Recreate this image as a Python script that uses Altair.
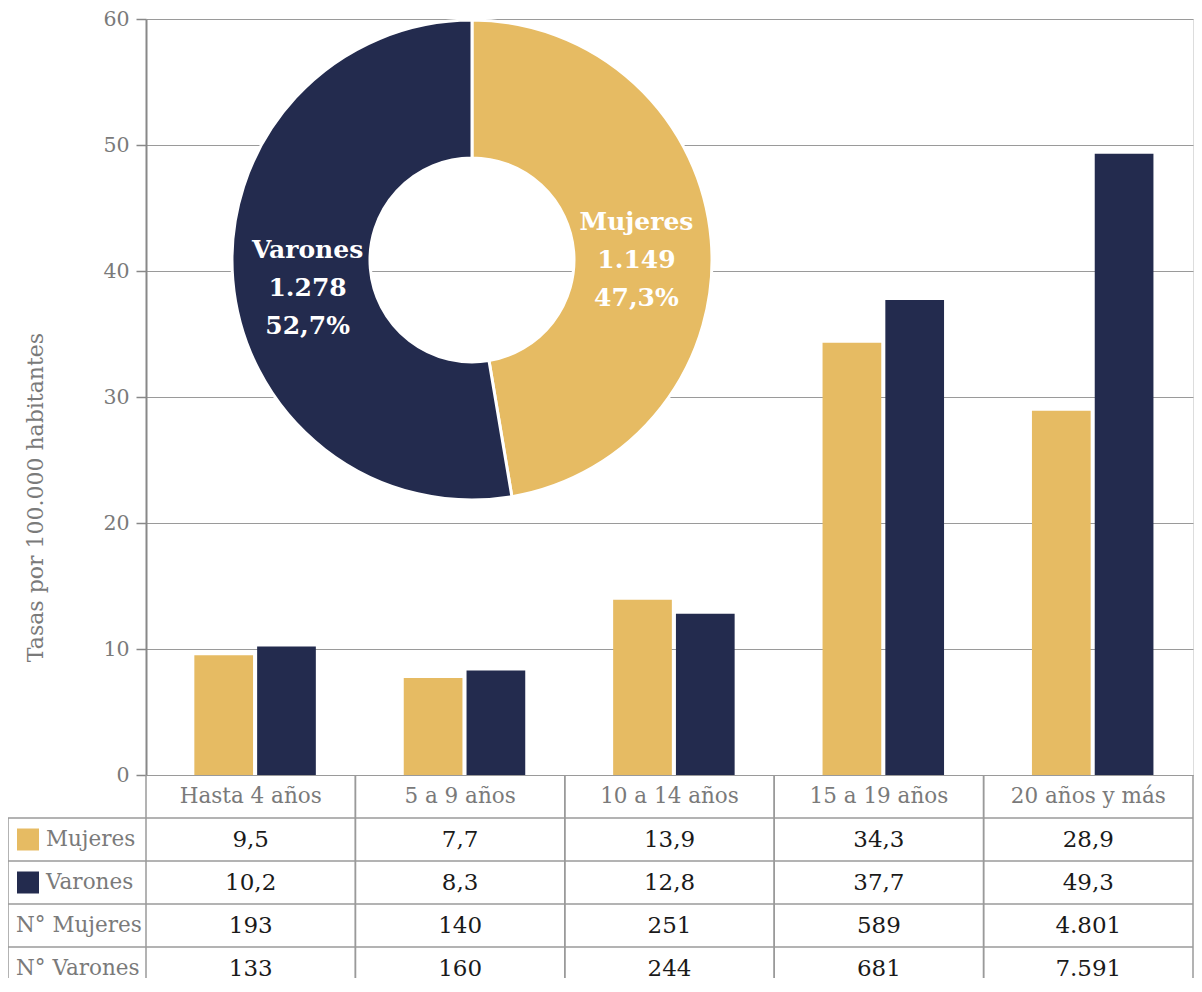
import altair as alt
import pandas as pd

categories = ["Hasta 4 años", "5 a 9 años", "10 a 14 años", "15 a 19 años", "20 años y más"]
series = ["Mujeres", "Varones"]
tasa_mujeres = [9.5, 7.7, 13.9, 34.3, 28.9]
tasa_varones = [10.2, 8.3, 12.8, 37.7, 49.3]
n_mujeres = [193, 140, 251, 589, 4801]
n_varones = [133, 160, 244, 681, 7591]
donut_totals = [1149, 1278]
donut_pct = [47.3, 52.7]
row_labels = ["Mujeres", "Varones", "N° Mujeres", "N° Varones"]
y_ticks = [0, 10, 20, 30, 40, 50, 60]
colors = ["#E6BB63", "#232B4E"]

FONT = "DejaVu Serif"
GRAY_TXT = "#7a7a7a"
LINE = "#9a9a9a"
W, H = 1047, 756
ROW_H = 43


def fmt_dec(v):
    return f"{v:.1f}".replace(".", ",")


def fmt_int(v):
    return f"{v:,}".replace(",", ".")


# bar data
bar_rows = []
for i, c in enumerate(categories):
    bar_rows.append({"cat": c, "serie": "Mujeres", "val": tasa_mujeres[i]})
    bar_rows.append({"cat": c, "serie": "Varones", "val": tasa_varones[i]})
df_bars = pd.DataFrame(bar_rows)

# donut data
df_donut = pd.DataFrame({
    "serie": series,
    "total": donut_totals,
    "idx": [0, 1],
    "label": [f"{s}\n{fmt_int(t)}\n{fmt_dec(p)}%" for s, t, p in zip(series, donut_totals, donut_pct)],
})

# table data
cell_rows = []
for i, c in enumerate(categories):
    cell_rows.append({"cat": c, "row": 1.5, "txt": fmt_dec(tasa_mujeres[i])})
    cell_rows.append({"cat": c, "row": 2.5, "txt": fmt_dec(tasa_varones[i])})
    cell_rows.append({"cat": c, "row": 3.5, "txt": fmt_int(n_mujeres[i])})
    cell_rows.append({"cat": c, "row": 4.5, "txt": fmt_int(n_varones[i])})
df_cells = pd.DataFrame(cell_rows)
df_head = pd.DataFrame({"cat": categories, "row": [0.5] * len(categories)})
df_legend_lab = pd.DataFrame({"lab": row_labels[:2], "row": [1.5, 2.5], "serie": series})
df_n_lab = pd.DataFrame({"lab": row_labels[2:], "row": [3.5, 4.5]})
df_hlines = pd.DataFrame({"row": [1, 2, 3, 4, 5]})
df_vlines = pd.DataFrame({"cat": categories, "y0": [0] * 5, "y1": [5] * 5})
df_left = pd.DataFrame({"y0": [1], "y1": [5]})

x_scale = alt.Scale(domain=categories, paddingInner=0, paddingOuter=0)
color_scale = alt.Scale(domain=series, range=colors)
table_y = alt.Scale(domain=[0, 5], range=[H, H + 5 * ROW_H])

bars = alt.Chart(df_bars).mark_bar().encode(
    x=alt.X("cat:N", scale=x_scale, sort=categories, axis=None),
    xOffset=alt.XOffset("serie:N", scale=alt.Scale(domain=series, paddingInner=0.065,
                                                   paddingOuter=0.7, align=0.55)),
    y=alt.Y("val:Q", scale=alt.Scale(domain=[0, 60], nice=False),
            axis=alt.Axis(values=y_ticks, title="Tasas por 100.000 habitantes",
                          grid=True, gridColor=LINE, gridWidth=1,
                          domainColor="#888888", domainWidth=2,
                          tickColor="#888888", tickSize=10, tickWidth=1.5,
                          labelColor=GRAY_TXT, labelFontSize=20.5, labelFont=FONT, labelPadding=7,
                          titleColor=GRAY_TXT, titleFontSize=22, titleFont=FONT,
                          titleFontWeight="normal", titleX=-111, titleY=478,
                          titleBaseline="middle", titleAlign="center", titleAngle=270)),
    color=alt.Color("serie:N", scale=color_scale, legend=None),
)

donut = alt.Chart(df_donut).mark_arc(radius=240, radius2=102, stroke="white", strokeWidth=3).encode(
    theta=alt.Theta("total:Q", stack=True),
    order=alt.Order("idx:Q"),
    color=alt.Color("serie:N", scale=color_scale, legend=None),
    x=alt.value(326), y=alt.value(241),
)

donut_text = alt.Chart(df_donut).mark_text(
    radius=165, font=FONT, fontSize=25, fontWeight="bold", color="white",
    lineBreak="\n", lineHeight=38, dy=-24, align="center", baseline="middle",
).encode(
    theta=alt.Theta("total:Q", stack=True),
    order=alt.Order("idx:Q"),
    text="label:N",
    x=alt.value(326), y=alt.value(241),
)

hlines = alt.Chart(df_hlines).mark_rule(color=LINE, strokeWidth=1.5).encode(
    y=alt.Y("row:Q", scale=table_y, axis=None),
    x=alt.value(-138), x2=alt.value(W),
)
vlines_a = alt.Chart(df_vlines).mark_rule(color=LINE, strokeWidth=1.5).encode(
    x=alt.X("cat:N", scale=x_scale, sort=categories, bandPosition=0, axis=None),
    y=alt.Y("y0:Q", scale=table_y, axis=None), y2="y1:Q",
)
vlines_b = alt.Chart(df_vlines).mark_rule(color=LINE, strokeWidth=1.5).encode(
    x=alt.X("cat:N", scale=x_scale, sort=categories, bandPosition=1, axis=None),
    y=alt.Y("y0:Q", scale=table_y, axis=None), y2="y1:Q",
)
left_border = alt.Chart(df_left).mark_rule(color=LINE, strokeWidth=1.5).encode(
    x=alt.value(-138),
    y=alt.Y("y0:Q", scale=table_y, axis=None), y2="y1:Q",
)

head = alt.Chart(df_head).mark_text(font=FONT, fontSize=21.5, color=GRAY_TXT, baseline="middle").encode(
    x=alt.X("cat:N", scale=x_scale, sort=categories, axis=None),
    y=alt.Y("row:Q", scale=table_y, axis=None),
    text="cat:N",
)
cells = alt.Chart(df_cells).mark_text(font=FONT, fontSize=23, color="#1a1a1a", baseline="middle").encode(
    x=alt.X("cat:N", scale=x_scale, sort=categories, axis=None),
    y=alt.Y("row:Q", scale=table_y, axis=None),
    text="txt:N",
)
legend_sq = alt.Chart(df_legend_lab).mark_square(size=484, opacity=1).encode(
    x=alt.value(-118),
    y=alt.Y("row:Q", scale=table_y, axis=None),
    color=alt.Color("serie:N", scale=color_scale, legend=None),
)
legend_txt = alt.Chart(df_legend_lab).mark_text(font=FONT, fontSize=21.5, color=GRAY_TXT,
                                                align="left", baseline="middle").encode(
    x=alt.value(-100),
    y=alt.Y("row:Q", scale=table_y, axis=None),
    text="lab:N",
)
n_txt = alt.Chart(df_n_lab).mark_text(font=FONT, fontSize=21.5, color=GRAY_TXT,
                                      align="left", baseline="middle").encode(
    x=alt.value(-130),
    y=alt.Y("row:Q", scale=table_y, axis=None),
    text="lab:N",
)

chart = alt.layer(
    bars, donut, donut_text, hlines, vlines_a, vlines_b, left_border,
    head, cells, legend_sq, legend_txt, n_txt,
).resolve_scale(y="independent").properties(
    width=W, height=H,
    autosize=alt.AutoSizeParams(type="none"),
    padding={"left": 138, "top": 11, "right": 1, "bottom": 203},
).configure_view(stroke="#888888", strokeWidth=2).configure(font=FONT)

chart.save("out.html", embed_options={"renderer": "svg", "actions": False})
